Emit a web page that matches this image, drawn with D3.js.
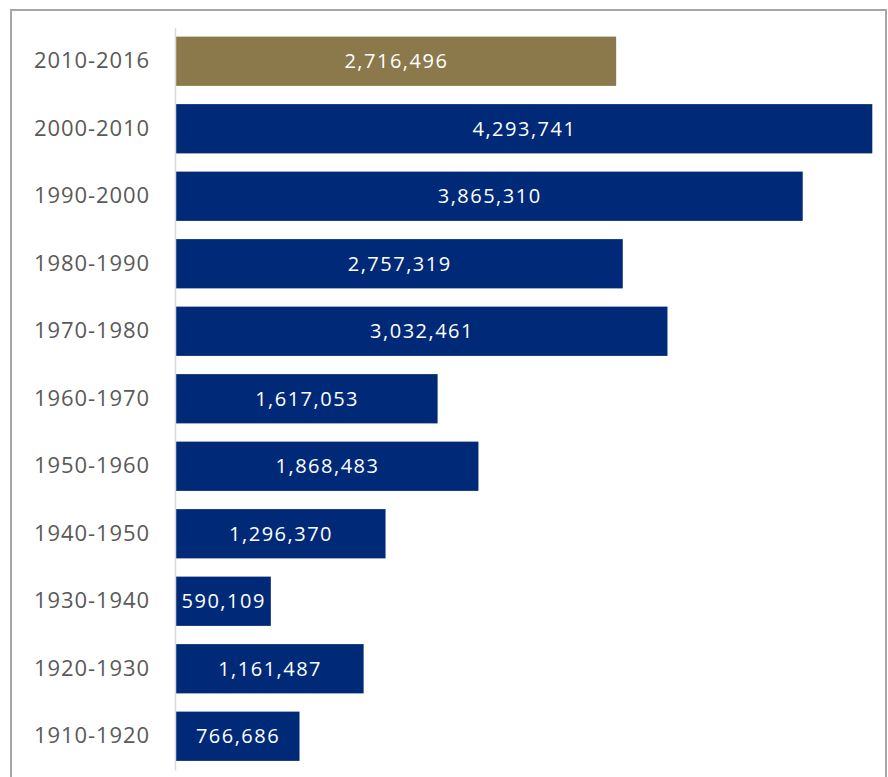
<!DOCTYPE html>
<html><head><meta charset="utf-8">
<script src="https://cdn.jsdelivr.net/npm/d3@7"></script>
<style>body{margin:0;background:#fff;}svg{display:block;}</style>
</head><body>
<script>
const categories = ["2010-2016","2000-2010","1990-2000","1980-1990","1970-1980","1960-1970","1950-1960","1940-1950","1930-1940","1920-1930","1910-1920"];
const values = [2716496,4293741,3865310,2757319,3032461,1617053,1868483,1296370,590109,1161487,766686];
const highlight = ["2010-2016"];

const W = 888, H = 777;
const svg = d3.select("body").append("svg").attr("width", W).attr("height", H);

// chart border
svg.append("path").attr("d", `M11,${H} L11,10 L886,10 L886,${H}`)
  .attr("fill","none").attr("stroke","#a6a6a6").attr("stroke-width",2);

const x = d3.scaleLinear().domain([0, d3.max(values)]).range([175, 872.3]);
const y = d3.scaleBand().domain(categories).range([27.5, 770]).paddingInner(0.27).paddingOuter(0.135);

const fmt = d3.format(",");
const font = "'Open Sans', sans-serif";

svg.selectAll("rect.bar").data(categories).enter().append("rect")
  .attr("x", x(0)).attr("y", d => y(d))
  .attr("width", (d,i) => x(values[i]) - x(0))
  .attr("height", y.bandwidth())
  .attr("fill", d => highlight.includes(d) ? "#8c794b" : "#002a78");

svg.selectAll("text.val").data(categories).enter().append("text")
  .attr("x", (d,i) => (x(0) + x(values[i]))/2 + 0.8)
  .attr("y", d => y(d) + y.bandwidth()/2)
  .attr("dy","0.36em").attr("text-anchor","middle")
  .attr("fill","#fff").attr("font-family",font).attr("font-size",20)
  .attr("letter-spacing", 1.5)
  .text((d,i) => fmt(values[i]));

const axis = d3.axisLeft(y).tickSize(0).tickPadding(26);
const g = svg.append("g").attr("transform", `translate(${x(0)},0)`).call(axis);
g.select(".domain").attr("stroke","#d9d9d9").attr("stroke-width",1.5);
g.selectAll("text").attr("fill","#595959").attr("font-family",font).attr("font-size",22)
  .attr("letter-spacing", 0.9).attr("dx", 0.9);
</script>
</body></html>
